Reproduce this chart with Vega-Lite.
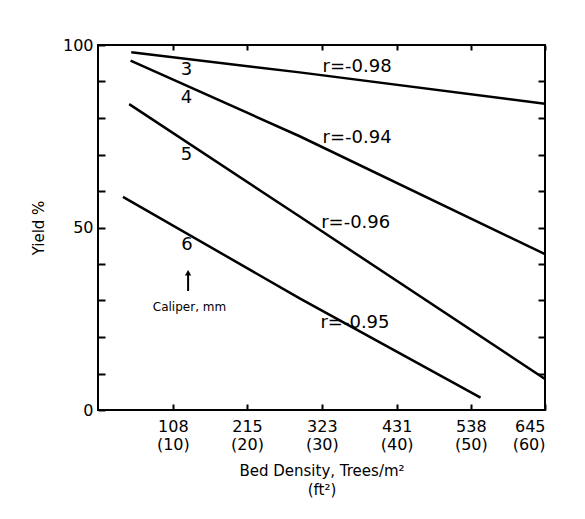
{
  "$schema": "https://vega.github.io/schema/vega-lite/v6.json",
  "width": 447,
  "height": 365,
  "autosize": "none",
  "padding": {"left": 98, "top": 45, "right": 40, "bottom": 109},
  "background": "white",
  "config": {
    "view": {"stroke": "black", "strokeWidth": 2},
    "font": "DejaVu Sans",
    "axis": {"domain": false, "grid": false, "tickColor": "black", "tickWidth": 2, "labelColor": "black", "titleColor": "black", "labelFont": "DejaVu Sans", "titleFont": "DejaVu Sans", "titleFontWeight": "normal"}
  },
  "datasets": {
    "lines": [
      {"caliper": "3", "density": 48, "yield": 98.0},
      {"caliper": "3", "density": 291, "yield": 92.5},
      {"caliper": "3", "density": 645, "yield": 83.9},
      {"caliper": "4", "density": 47, "yield": 95.7},
      {"caliper": "4", "density": 291, "yield": 75.0},
      {"caliper": "4", "density": 645, "yield": 42.7},
      {"caliper": "5", "density": 45, "yield": 83.8},
      {"caliper": "5", "density": 291, "yield": 53.0},
      {"caliper": "5", "density": 645, "yield": 8.5},
      {"caliper": "6", "density": 36, "yield": 58.4},
      {"caliper": "6", "density": 291, "yield": 30.6},
      {"caliper": "6", "density": 552, "yield": 3.4}
    ],
    "nums": [
      {"label": "3", "density": 127.6, "yield": 93.2},
      {"label": "4", "density": 127.6, "yield": 85.4},
      {"label": "5", "density": 127.6, "yield": 69.9},
      {"label": "6", "density": 128.5, "yield": 45.2}
    ],
    "rlabels": [
      {"label": "r=-0.98", "density": 324, "yield": 93.9},
      {"label": "r=-0.94", "density": 324, "yield": 74.4},
      {"label": "r=-0.96", "density": 322, "yield": 51.3},
      {"label": "r=-0.95", "density": 321, "yield": 23.8}
    ],
    "note": [
      {"label": "Caliper, mm", "density": 132, "yield": 28.2}
    ],
    "arrow": [
      {"density": 130, "y1": 32.6, "y2": 37.0, "tip": 37.6}
    ]
  },
  "layer": [
    {
      "data": {"name": "lines"},
      "mark": {"type": "line", "color": "black", "strokeWidth": 2.5, "clip": true},
      "encoding": {
        "x": {"field": "density", "type": "quantitative", "scale": {"domain": [0, 645], "nice": false, "zero": false},
          "axis": {"orient": "bottom", "values": [108, 215, 323, 431, 538, 645], "tickSize": -6, "labelPadding": 14, "labelFontSize": 16, "labelLineHeight": 18,
            "labelExpr": "[format(datum.value, 'd'), '(' + format(round(datum.value / 10.764), 'd') + ')']",
            "title": ["Bed Density, Trees/m²", "(ft²)"], "titleFontSize": 15, "titlePadding": 11, "titleLineHeight": 19}},
        "y": {"field": "yield", "type": "quantitative", "scale": {"domain": [0, 100], "nice": false},
          "axis": {"orient": "left", "values": [0, 10, 20, 30, 40, 50, 60, 70, 80, 90, 100], "tickSize": -7, "labelPadding": 12, "labelFontSize": 16,
            "labelExpr": "datum.value % 50 == 0 ? datum.label : ''",
            "title": "Yield %", "titleFontSize": 15, "titlePadding": 16}},
        "detail": {"field": "caliper"}
      }
    },
    {
      "data": {"name": "lines"},
      "mark": {"type": "point", "opacity": 0},
      "encoding": {
        "x": {"field": "density", "type": "quantitative", "axis": {"orient": "top", "values": [108, 215, 323, 431, 538, 645], "tickSize": -5, "labels": false, "title": null}},
        "y": {"field": "yield", "type": "quantitative", "axis": {"orient": "right", "values": [10, 20, 30, 40, 50, 60, 70, 80, 90], "tickSize": -7, "labels": false, "title": null}}
      }
    },
    {
      "data": {"name": "nums"},
      "mark": {"type": "text", "fontSize": 18, "color": "black", "align": "center", "baseline": "middle"},
      "encoding": {
        "x": {"field": "density", "type": "quantitative", "axis": null},
        "y": {"field": "yield", "type": "quantitative", "axis": null},
        "text": {"field": "label"}
      }
    },
    {
      "data": {"name": "rlabels"},
      "mark": {"type": "text", "fontSize": 18, "color": "black", "align": "left", "baseline": "middle"},
      "encoding": {
        "x": {"field": "density", "type": "quantitative", "axis": null},
        "y": {"field": "yield", "type": "quantitative", "axis": null},
        "text": {"field": "label"}
      }
    },
    {
      "data": {"name": "note"},
      "mark": {"type": "text", "fontSize": 12, "color": "black", "align": "center", "baseline": "middle"},
      "encoding": {
        "x": {"field": "density", "type": "quantitative", "axis": null},
        "y": {"field": "yield", "type": "quantitative", "axis": null},
        "text": {"field": "label"}
      }
    },
    {
      "data": {"name": "arrow"},
      "mark": {"type": "rule", "color": "black", "strokeWidth": 2},
      "encoding": {
        "x": {"field": "density", "type": "quantitative", "axis": null},
        "y": {"field": "y1", "type": "quantitative", "axis": null},
        "y2": {"field": "y2"}
      }
    },
    {
      "data": {"name": "arrow"},
      "mark": {"type": "point", "shape": "triangle-up", "filled": true, "color": "black", "size": 40, "opacity": 1},
      "encoding": {
        "x": {"field": "density", "type": "quantitative", "axis": null},
        "y": {"field": "tip", "type": "quantitative", "axis": null}
      }
    }
  ],
  "resolve": {"axis": {"x": "independent", "y": "independent"}}
}
